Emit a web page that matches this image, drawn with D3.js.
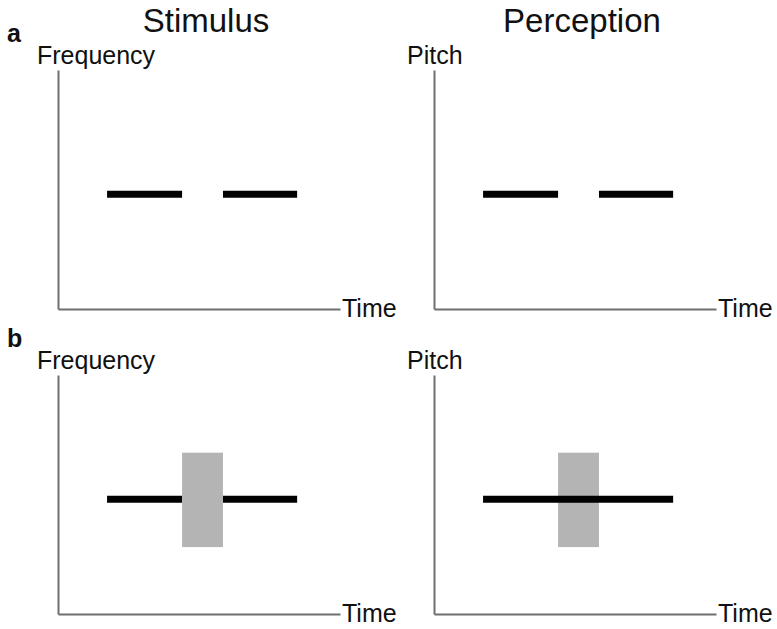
<!DOCTYPE html>
<html>
<head>
<meta charset="utf-8">
<script src="https://cdn.jsdelivr.net/npm/d3@7"></script>
<style>
  body { margin: 0; background: #fff; }
  text { font-family: "Liberation Sans", Arial, sans-serif; fill: #111; }
</style>
</head>
<body>
<div id="chart"></div>
<script>
// columns and rows of the figure
let columns = ["Stimulus", "Perception"];
let yLabels = ["Frequency", "Pitch"];
let rows = ["a", "b"];

// tone segments in time units (0-100), level in frequency units (0-100)
let toneLevel = 48;
let tonesA = [[17.4, 44], [58.5, 84.8]];
let stimTonesB = [[17.4, 44], [58.5, 84.8]];
let percTonesB = [[17.4, 84.8]];
// noise burst: time span and frequency band
let noiseTime = [44, 58.5];
let noiseBand = [28, 67.5];

let panels = [
	{ row: 0, col: 0, tones: tonesA, noise: false },
	{ row: 0, col: 1, tones: tonesA, noise: false },
	{ row: 1, col: 0, tones: stimTonesB, noise: true, noiseOnTop: true },
	{ row: 1, col: 1, tones: percTonesB, noise: true, noiseOnTop: false }
];

let width = 777;
let height = 629;
let colX = [58, 434];
let rowY = [70, 375];
let pw = 282;
let ph = 239;

let svg = d3.select("#chart").append("svg")
	.attr("width", width)
	.attr("height", height);

// column titles
svg.selectAll(".title")
	.data(columns)
	.enter()
	.append("text")
	.attr("x", (d, i) => colX[i] + 148)
	.attr("y", 32)
	.attr("text-anchor", "middle")
	.style("font-size", "33px")
	.text(d => d);

// row letters
svg.selectAll(".rowlabel")
	.data(rows)
	.enter()
	.append("text")
	.attr("x", 7)
	.attr("y", (d, i) => rowY[i] - 28)
	.style("font-size", "25px")
	.style("font-weight", "bold")
	.text(d => d);

panels.forEach(function (p) {
	let x0 = colX[p.col];
	let y0 = rowY[p.row];
	let xScale = d3.scaleLinear().domain([0, 100]).range([x0, x0 + pw]);
	let yScale = d3.scaleLinear().domain([0, 100]).range([y0 + ph, y0]);

	let g = svg.append("g");

	// axes without ticks
	g.append("g")
		.attr("transform", `translate(0,${y0 + ph})`)
		.call(d3.axisBottom(xScale).tickValues([]).tickSizeOuter(0))
		.select(".domain").attr("stroke", "#6f6f6f").attr("stroke-width", 2);
	g.append("g")
		.attr("transform", `translate(${x0},0)`)
		.call(d3.axisLeft(yScale).tickValues([]).tickSizeOuter(0))
		.select(".domain").attr("stroke", "#6f6f6f").attr("stroke-width", 2);

	// axis labels
	g.append("text")
		.attr("x", xScale(100) + 2)
		.attr("y", yScale(0) + 8)
		.style("font-size", "25px")
		.text("Time");
	g.append("text")
		.attr("x", p.col === 0 ? x0 - 21 : x0 - 27)
		.attr("y", y0 - 6)
		.style("font-size", "25px")
		.text(yLabels[p.col]);

	function drawNoise() {
		g.append("rect")
			.attr("x", xScale(noiseTime[0]))
			.attr("y", yScale(noiseBand[1]))
			.attr("width", xScale(noiseTime[1]) - xScale(noiseTime[0]))
			.attr("height", yScale(noiseBand[0]) - yScale(noiseBand[1]))
			.attr("fill", "#b4b4b4");
	}

	if (p.noise && !p.noiseOnTop) drawNoise();

	g.selectAll(".tone")
		.data(p.tones)
		.enter()
		.append("line")
		.attr("x1", d => xScale(d[0]))
		.attr("x2", d => xScale(d[1]))
		.attr("y1", yScale(toneLevel))
		.attr("y2", yScale(toneLevel))
		.attr("stroke", "#000")
		.attr("stroke-width", 7);

	if (p.noise && p.noiseOnTop) drawNoise();
});
</script>
</body>
</html>
